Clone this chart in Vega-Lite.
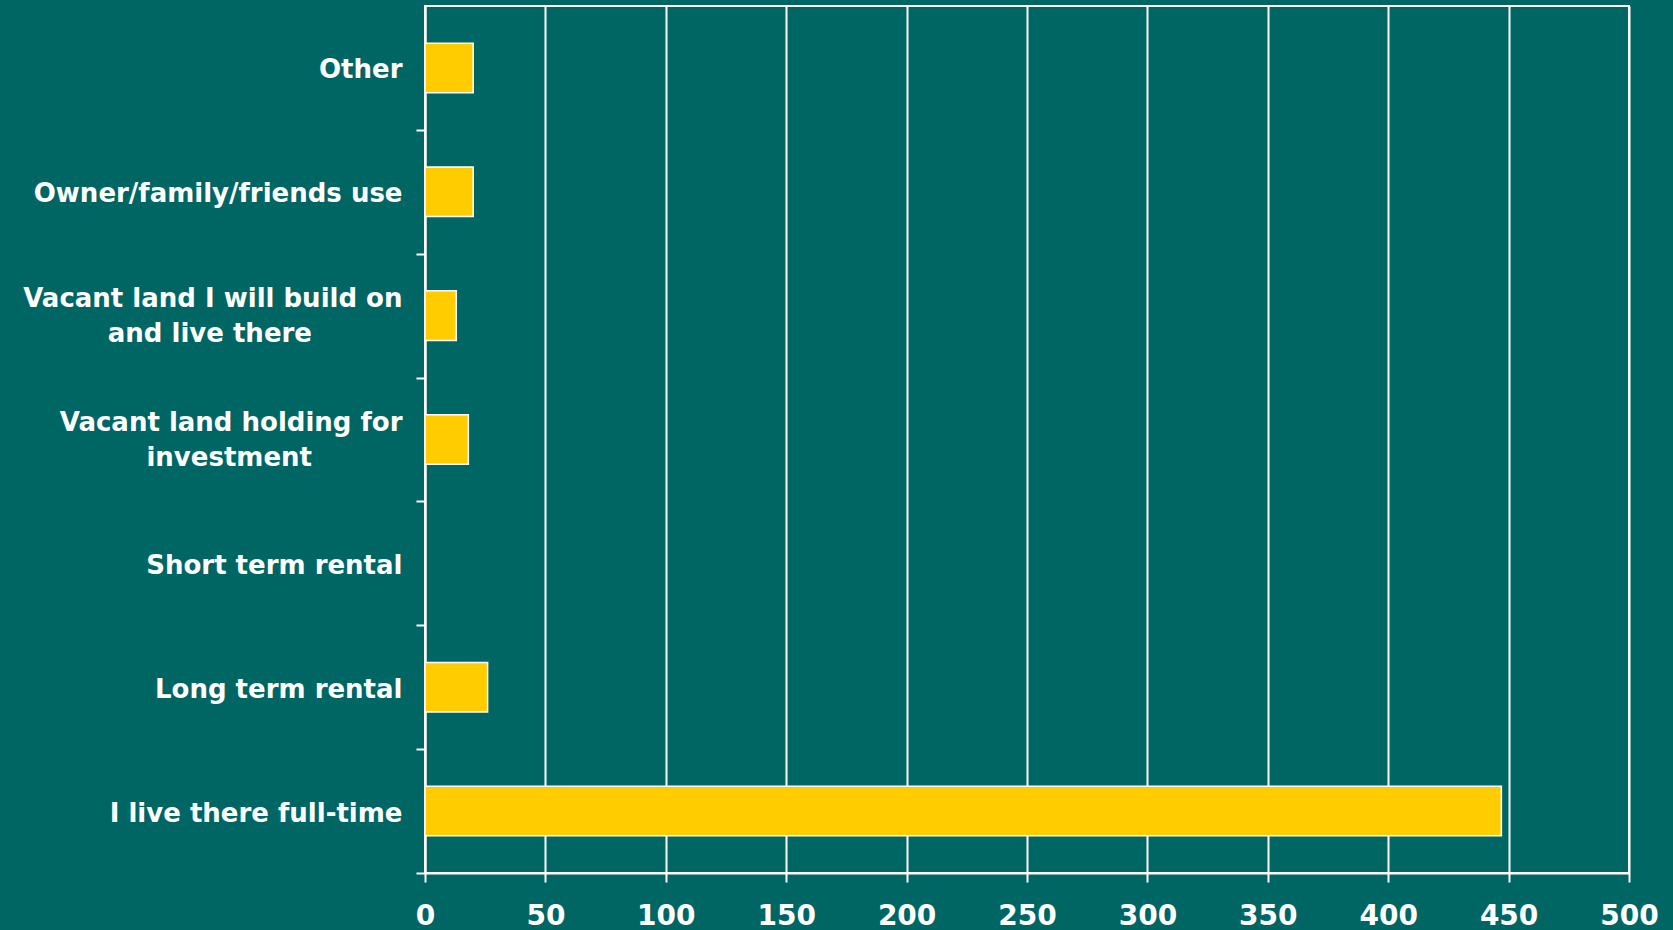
{
  "$schema": "https://vega.github.io/schema/vega-lite/v6.json",
  "width": 1204,
  "height": 867,
  "autosize": {"type": "none"},
  "padding": {"left": 425, "top": 6, "right": 44, "bottom": 57},
  "background": "#006664",
  "config": {
    "view": {"stroke": "#ffffff", "strokeWidth": 2},
    "font": "DejaVu Sans"
  },
  "data": {
    "values": [
      {"category": "Other", "count": 20},
      {"category": "Owner/family/friends use", "count": 20},
      {"category": "Vacant land I will build on and live there", "count": 13},
      {"category": "Vacant land holding for investment", "count": 18},
      {"category": "Short term rental", "count": 0},
      {"category": "Long term rental", "count": 26},
      {"category": "I live there full-time", "count": 447}
    ]
  },
  "mark": {"type": "bar", "color": "#FFCC00", "stroke": "#ffffff", "strokeWidth": 1.5},
  "encoding": {
    "y": {
      "field": "category",
      "type": "nominal",
      "sort": ["Other", "Owner/family/friends use", "Vacant land I will build on and live there", "Vacant land holding for investment", "Short term rental", "Long term rental", "I live there full-time"],
      "scale": {"paddingInner": 0.6, "paddingOuter": 0.3},
      "axis": {
        "title": null,
        "grid": false,
        "domainColor": "#ffffff",
        "domainWidth": 2,
        "tickColor": "#ffffff",
        "tickWidth": 2,
        "tickSize": 9,
        "tickOffset": 61.93,
        "labelOffset": {"condition": {"test": "indexof(datum.value, 'Vacant') == 0", "value": -78.9}, "value": -59.9},
        "labelPadding": 14,
        "labelFont": "DejaVu Sans",
        "labelFontSize": 26,
        "labelFontWeight": "bold",
        "labelColor": "#ffffff",
        "labelLimit": 0,
        "labelLineHeight": 35,
        "labelExpr": "datum.label == 'Vacant land I will build on and live there' ? ['Vacant land I will build on', 'and live there\u00a0\u00a0\u00a0\u00a0\u00a0\u00a0\u00a0\u00a0\u00a0\u00a0\u200b'] : datum.label == 'Vacant land holding for investment' ? ['Vacant land holding for', 'investment\u00a0\u00a0\u00a0\u00a0\u00a0\u00a0\u00a0\u00a0\u00a0\u00a0\u200b'] : datum.label"
      }
    },
    "x": {
      "field": "count",
      "type": "quantitative",
      "scale": {"domain": [0, 500], "nice": false},
      "axis": {
        "title": null,
        "values": [0, 50, 100, 150, 200, 250, 300, 350, 400, 450, 500],
        "grid": true,
        "gridColor": "#ffffff",
        "gridWidth": 2,
        "gridOpacity": 1,
        "domainColor": "#ffffff",
        "domainWidth": 2,
        "tickColor": "#ffffff",
        "tickWidth": 2,
        "tickSize": 9,
        "labelPadding": 20,
        "labelFont": "DejaVu Sans",
        "labelFontSize": 28,
        "labelFontWeight": "bold",
        "labelColor": "#ffffff",
        "labelFlush": false
      }
    }
  }
}
